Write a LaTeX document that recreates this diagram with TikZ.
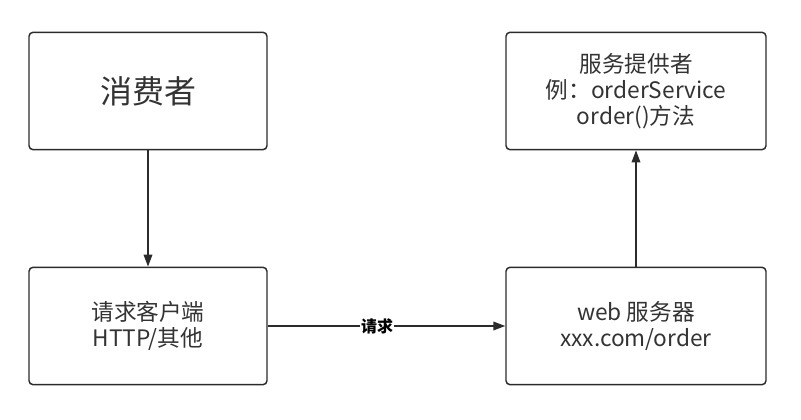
\documentclass[tikz,border=0pt]{standalone}
\usepackage{fontspec}
\setmainfont{Noto Sans CJK SC}
\usetikzlibrary{arrows.meta}
\definecolor{txtgray}{HTML}{333333}
\definecolor{linegray}{HTML}{2B2B2B}

\begin{document}
\begin{tikzpicture}[x=0.75pt, y=-0.75pt]
\tikzstyle{main}=[rectangle, rounded corners=3pt, draw=linegray, line width=1.1pt, text=txtgray, align=center, font=\fontsize{17}{19.5}\selectfont]
\tikzstyle{narrow}=[main, minimum width=178.5pt, minimum height=88pt]
\tikzstyle{wide}=[main, minimum width=195pt, minimum height=88pt]
\tikzstyle{connect}=[-{Triangle[length=9pt, width=6.5pt]}, line width=1.1pt, draw=linegray]
\tikzstyle{lbl}=[fill=white, inner sep=0.5pt, text=black, font=\fontsize{12}{14}\selectfont\bfseries]

  \useasboundingbox (0,0) rectangle (801,420);

  \node[narrow] (consumer) at (148,91)  {\fontsize{24}{28}\selectfont 消费者};
  \node[narrow] (client)   at (148,326) {请求客户端\\ HTTP/其他};
  \node[wide]   (server)   at (636,326) {web 服务器\\xxx.com/order};
  \node[wide]   (provider) at (636,91)  {服务提供者\\例：orderService\\order()方法};

  \path (consumer) edge [connect] (client);
  \path (client)   edge [connect] node [lbl, pos=0.46] {请求} (server);
  \path (server)   edge [connect] (provider);

\end{tikzpicture}
\end{document}
